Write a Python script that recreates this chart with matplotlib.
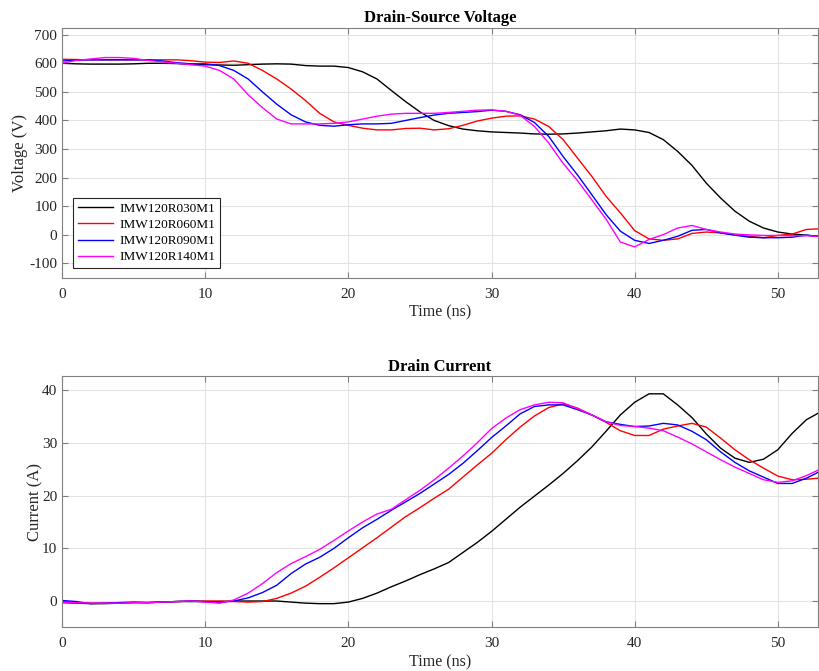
import numpy as np
import matplotlib.pyplot as plt

plt.rcParams['font.family'] = ['Liberation Serif', 'DejaVu Serif']
plt.rcParams['axes.unicode_minus'] = False

labels = ['IMW120R030M1', 'IMW120R060M1', 'IMW120R090M1', 'IMW120R140M1']
colors = ['black', 'red', 'blue', 'magenta']

t = list(range(0, 53)) + [52.8]

v_030 = [600, 598, 597, 597, 597, 598, 600, 600, 599, 596, 595, 594, 593, 595, 597, 598, 597,
         592, 590, 590, 585, 570, 545, 505, 466, 430, 400, 382, 370, 364, 360, 358, 356, 353,
         352, 353, 356, 360, 364, 370, 367, 358, 333, 292, 243, 181, 129, 83, 48, 24, 10, 3,
         -1, -5]
v_060 = [614, 613, 612, 612, 612, 612, 612, 612, 612, 609, 604, 603, 608, 600, 575, 545, 510,
         470, 425, 395, 383, 373, 367, 367, 372, 373, 367, 371, 383, 398, 408, 415, 416, 405,
         379, 333, 269, 205, 135, 77, 15, -14, -19, -14, 5, 10, 7, 0, -5, -10, -2, 3, 19, 21]
v_090 = [608, 611, 612, 612, 612, 612, 612, 608, 602, 598, 598, 592, 575, 545, 500, 457, 420,
         395, 383, 380, 385, 388, 388, 390, 400, 410, 419, 425, 428, 431, 436, 432, 420, 393,
         344, 274, 210, 141, 71, 13, -19, -30, -19, -5, 16, 19, 7, -1, -8, -10, -10, -8, -1, -5]
v_140 = [600, 610, 615, 620, 620, 617, 610, 605, 600, 595, 590, 575, 545, 490, 445, 405, 388,
         388, 388, 390, 395, 405, 415, 422, 425, 425, 425, 428, 432, 436, 437, 432, 418, 379,
         321, 250, 190, 123, 55, -25, -42, -16, 1, 24, 33, 19, 10, 3, 0, -2, -2, -3, -3, -5]

i_030 = [-0.3, -0.4, -0.5, -0.5, -0.4, -0.3, -0.3, -0.2, -0.1, -0.1, -0.1, -0.1, 0, 0, 0, 0,
         -0.2, -0.4, -0.5, -0.5, -0.2, 0.5, 1.5, 2.7, 3.8, 5, 6.1, 7.3, 9.2, 11.1, 13.2, 15.5,
         17.8, 19.9, 22, 24.2, 26.6, 29.2, 32.2, 35.3, 37.7, 39.3, 39.3, 37.2, 34.8, 31.7, 29,
         27.1, 26.3, 26.9, 28.7, 31.8, 34.4, 35.6]
i_060 = [-0.2, -0.3, -0.4, -0.4, -0.3, -0.3, -0.3, -0.2, -0.1, 0, 0, 0, -0.1, -0.2, -0.1, 0.5,
         1.5, 2.8, 4.5, 6.3, 8.2, 10.1, 12, 14, 16, 17.7, 19.5, 21.2, 23.5, 25.8, 28, 30.6, 33,
         35.1, 36.7, 37.4, 36.6, 35.3, 33.9, 32.3, 31.4, 31.4, 32.6, 33.2, 33.7, 33, 30.9, 28.7,
         26.8, 25.2, 23.7, 23, 23.1, 23.3]
i_090 = [0.1, -0.1, -0.5, -0.4, -0.3, -0.2, -0.3, -0.2, -0.1, 0, -0.1, -0.3, 0, 0.6, 1.6, 3,
         5.2, 7, 8.3, 10, 12, 13.9, 15.5, 17.2, 18.8, 20.4, 22.2, 24, 26.1, 28.5, 31, 33.2, 35.5,
         36.9, 37.2, 37.2, 36.3, 35.3, 34, 33.5, 33.1, 33.2, 33.7, 33.4, 32.2, 30.6, 28.3, 26.3,
         24.7, 23.5, 22.3, 22.3, 23.3, 24.4]
i_140 = [-0.3, -0.3, -0.4, -0.4, -0.4, -0.3, -0.3, -0.2, -0.1, 0, -0.2, -0.4, 0.2, 1.5, 3.3,
         5.4, 7.1, 8.4, 9.8, 11.5, 13.3, 15, 16.5, 17.4, 19.2, 21, 23, 25.2, 27.5, 30, 32.7, 34.7,
         36.3, 37.2, 37.7, 37.6, 36.5, 35.3, 34, 33.3, 33.1, 32.8, 32.3, 31.1, 29.8, 28.3, 26.8,
         25.4, 24.2, 23, 22.5, 22.8, 23.8, 24.8]


def style_axes(ax):
    ax.grid(True, color='#e3e3e3', linewidth=0.8)
    ax.set_axisbelow(True)
    for s in ax.spines.values():
        s.set_color('#808080')
    ax.tick_params(direction='in', top=True, right=True, colors='#262626',
                   labelsize=11, length=4)
    ax.tick_params(axis='both', which='both', color='#808080')
    ax.tick_params(axis='x', pad=7)
    ax.set_xlim(0, 52.8)
    ax.set_xticks([0, 10, 20, 30, 40, 50])
    ax.set_xlabel('Time (ns)', fontsize=11.5, color='#262626', labelpad=3)


fig = plt.figure(figsize=(8.19, 6.71), dpi=100)
ax1 = fig.add_axes([0.0757, 0.586, 0.923, 0.373])
ax2 = fig.add_axes([0.0757, 0.065, 0.923, 0.374])

for v, c, lab in zip([v_030, v_060, v_090, v_140], colors, labels):
    ax1.plot(t, v, color=c, linewidth=1.0, label=lab)
for i, c in zip([i_030, i_060, i_090, i_140], colors):
    ax2.plot(t, i, color=c, linewidth=1.0)

style_axes(ax1)
ax1.set_ylim(-150, 725)
ax1.set_yticks(np.arange(-100, 701, 100))
ax1.set_ylabel('Voltage (V)', fontsize=12, color='#262626')
ax1.yaxis.set_label_coords(-0.045, 0.5)
ax1.set_title('Drain-Source Voltage', fontsize=12, fontweight='bold', pad=4)
leg = ax1.legend(loc='lower left', fontsize=9.5, fancybox=False, framealpha=1,
                 edgecolor='#262626', borderpad=0.35, labelspacing=0.3,
                 handlelength=2.7, handletextpad=0.5, borderaxespad=0,
                 bbox_to_anchor=(0.0145, 0.039))
leg.get_frame().set_linewidth(0.8)

style_axes(ax2)
ax2.set_ylim(-5, 42.6)
ax2.set_yticks([0, 10, 20, 30, 40])
ax2.set_ylabel('Current (A)', fontsize=12, color='#262626')
ax2.yaxis.set_label_coords(-0.0245, 0.5)
ax2.set_title('Drain Current', fontsize=12, fontweight='bold', pad=4)

fig.savefig('out.png', dpi=100)
